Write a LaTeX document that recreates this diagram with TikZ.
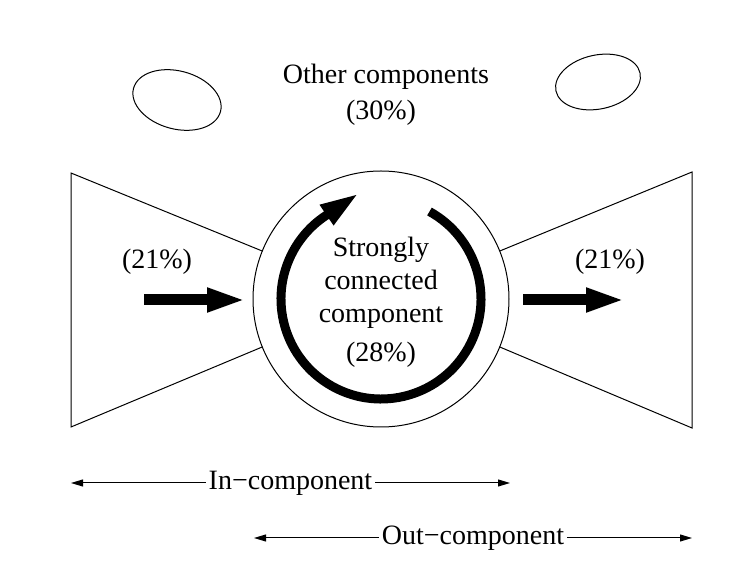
\documentclass[tikz,border=0pt]{standalone}
\usepackage{fontspec}
\setmainfont{Liberation Serif}
\usetikzlibrary{arrows.meta}

\begin{document}
\begin{tikzpicture}[x=0.5pt,y=0.5pt,
    every node/.style={font=\fontsize{14}{16.5}\selectfont},
    thinline/.style={line width=0.5pt},
    flow/.style={line width=5.5pt,-{Triangle[length=19.5pt,width=11pt]}},
    span/.style={line width=0.5pt,{Triangle[length=6pt,width=3.5pt]}-{Triangle[length=6pt,width=3.5pt]}}]
  \useasboundingbox (0,0) rectangle (746,579);

  \node[circle,draw,thinline,minimum size=128pt,inner sep=0pt,outer sep=0pt] (scc) at (381,280) {};
  \draw[thinline] (scc.158) -- (71,406) -- (71,152) -- (scc.202);
  \draw[thinline] (scc.22) -- (692,407) -- (692,151) -- (scc.-22);

  \draw[thinline,rotate around={-15:(177,479)}] (177,479) ellipse[x radius=45,y radius=29];
  \draw[thinline,rotate around={12:(598,497)}] (598,497) ellipse[x radius=43,y radius=27];

  \node (others) at (386,502) {Other components};
  \node (otherpct) at (381,466) {(30\%)};
  \node (inpct) at (157,317) {(21\%)};
  \node (outpct) at (610,317) {(21\%)};
  \node[align=center] (scctext) at (381,296) {Strongly\\connected\\component};
  \node (sccpct) at (381,224) {(28\%)};

  \draw[line width=4.5pt,-{Triangle[length=19.5pt,width=11pt]}] (scc.center) ++(61:100)
    arc[start angle=61,end angle=-237,radius=100] -- ++(34:39);

  \coordinate (inA) at (144,279);
  \coordinate (inB) at (246,279);
  \coordinate (outA) at (523,279);
  \coordinate (outB) at (625,279);
  \draw[flow] (inA) -- (inB);
  \draw[flow] (outA) -- (outB);

  \coordinate (inL) at (71,96);
  \coordinate (inR) at (510,96);
  \coordinate (outL) at (254,41);
  \coordinate (outR) at (692,41);
  \draw[span] (inL) -- (inR) node[midway,fill=white,inner xsep=1.5pt] (inlab) {In−component};
  \draw[span] (outL) -- (outR) node[midway,fill=white,inner xsep=1.5pt] (outlab) {Out−component};
\end{tikzpicture}
\end{document}
